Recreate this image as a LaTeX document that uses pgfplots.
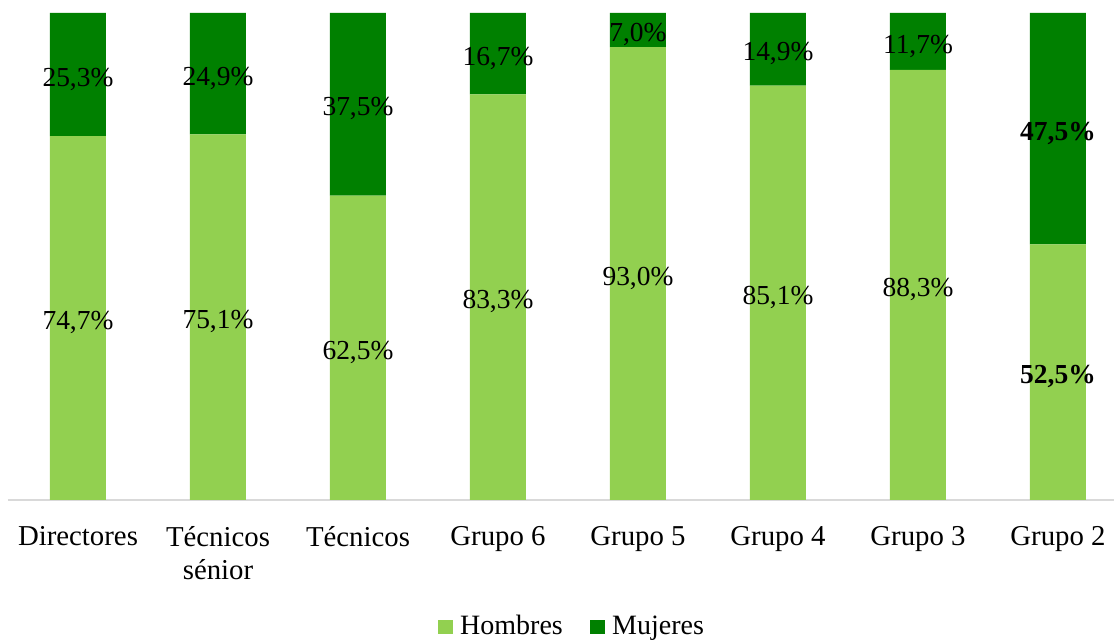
\documentclass[border=0pt]{standalone}
\usepackage{pgfplots}
\pgfplotsset{compat=1.18}
\usepackage{fontspec}
\setmainfont{Liberation Serif}
\definecolor{hombres}{HTML}{92D050}
\definecolor{mujeres}{HTML}{008000}
\definecolor{axisgray}{HTML}{D9D9D9}
\begin{document}
\fontsize{20}{24.75}\selectfont
\begin{tikzpicture}
\useasboundingbox (0,0) rectangle (835.5pt,480.75pt);
\pgfplotsset{
  common/.style={
    at={(6pt,105.75pt)}, anchor=south west,
    scale only axis, width=829.5pt, height=365.25pt,
    xmin=-0.5, xmax=7.4, ymin=0, ymax=100,
  }
}
\begin{axis}[common,
  ybar stacked, bar width=42pt,
  axis x line=bottom, axis y line=none,
  x axis line style={draw=axisgray, line width=0.9pt, -},
  xtick={0,...,7},
  xticklabels={Directores, {Técnicos\\sénior}, Técnicos, Grupo 6, Grupo 5, Grupo 4, Grupo 3, Grupo 2},
  xticklabel style={font=\fontsize{21.6}{24.75}\selectfont, align=center, anchor=north, inner sep=0pt, yshift=-20pt, text=black},
  major tick length=0pt,
  ytick=\empty,
  legend style={at={(0.51,-0.2608)}, anchor=center, draw=none, fill=none, legend columns=2,
    font=\fontsize{21}{24.75}\selectfont,
    /tikz/every even column/.append style={column sep=18pt}},
  legend image code/.code={\fill[#1] (0pt,-5.6pt) rectangle (11.25pt,5.6pt); \path (15pt,0pt);},
]
\addplot[fill=hombres, draw=none] coordinates {
(0,74.7) (1,75.1) (2,62.5) (3,83.3) (4,93.0) (5,85.1) (6,88.3) (7,52.5)};
\addplot[fill=mujeres, draw=none] coordinates {
(0,25.3) (1,24.9) (2,37.5) (3,16.7) (4,7.0) (5,14.9) (6,11.7) (7,47.5)};
\legend{Hombres, Mujeres}
\end{axis}
\begin{axis}[common, hide axis,
  nodes near coords, point meta=explicit symbolic,
  nodes near coords align={center},
  every node near coord/.append style={anchor=center, yshift=-3.5pt, font=\fontsize{20.6}{24.75}\selectfont, text=black, inner sep=0pt},
]
\addplot[draw=none] table[meta=l] {
x y l
0 37.35 74,7\%
1 37.55 75,1\%
2 31.25 62,5\%
3 41.65 83,3\%
4 46.5 93,0\%
5 42.55 85,1\%
6 44.15 88,3\%
0 87.35 25,3\%
1 87.55 24,9\%
2 81.25 37,5\%
3 91.65 16,7\%
4 96.5 7,0\%
5 92.55 14,9\%
6 94.15 11,7\%
};
\addplot[draw=none, every node near coord/.append style={font=\fontsize{20.6}{24.75}\selectfont\bfseries}] table[meta=l] {
x y l
7 26.25 52,5\%
7 76.25 47,5\%
};
\end{axis}
\end{tikzpicture}
\end{document}
